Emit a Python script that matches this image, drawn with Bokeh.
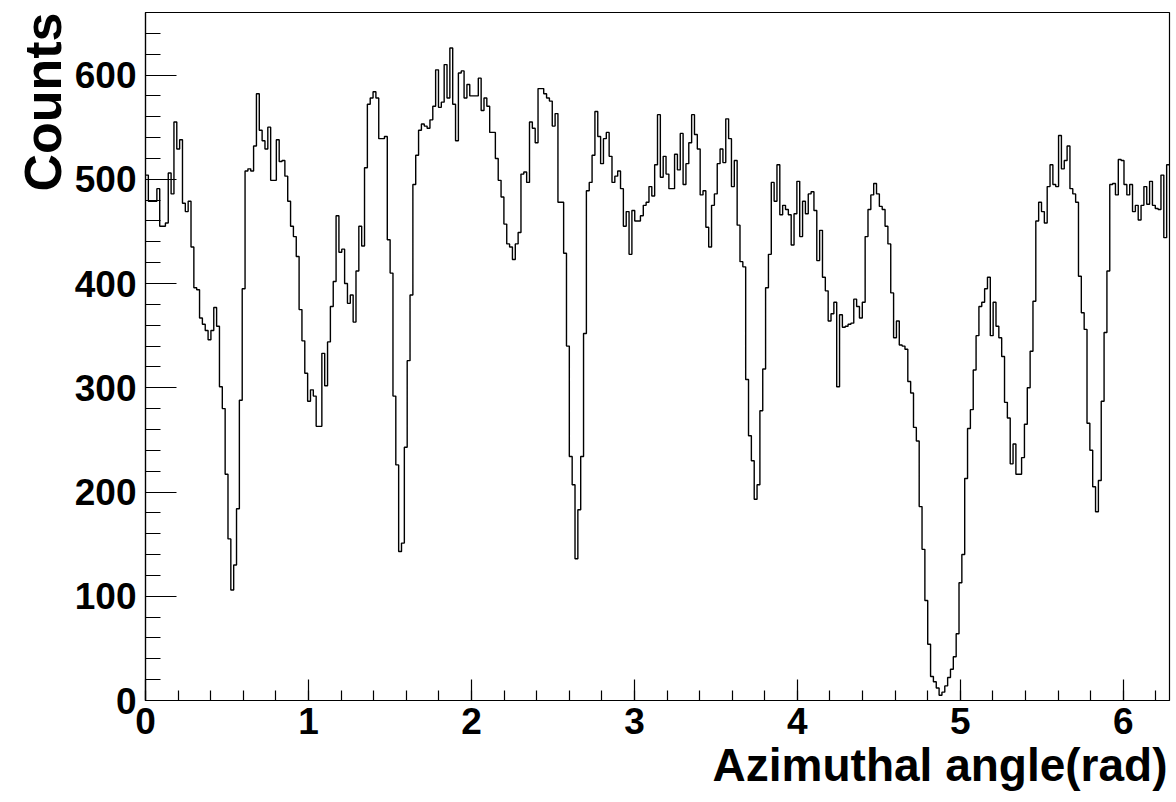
import numpy as np
from bokeh.plotting import figure
from bokeh.models import FixedTicker, Range1d, Title
from bokeh.embed import file_html
from bokeh.resources import INLINE

# ---- data (360 bins over 0..2pi) ----
counts = [
    504, 479, 479, 479, 491, 455, 455, 458, 506, 486,
    555, 529, 538, 477, 469, 479, 435, 396, 394, 367,
    361, 355, 346, 355, 377, 359, 301, 280, 217, 155,
    106, 130, 184, 288, 395, 508, 510, 508, 532, 582,
    547, 537, 529, 550, 499, 499, 538, 517, 518, 503,
    479, 455, 445, 426, 375, 345, 314, 287, 298, 292,
    263, 263, 333, 302, 344, 378, 402, 465, 430, 433,
    400, 381, 389, 363, 412, 455, 436, 511, 572, 578,
    584, 578, 539, 539, 541, 442, 410, 292, 226, 143,
    151, 243, 326, 389, 495, 523, 547, 553, 551, 549,
    557, 570, 605, 569, 574, 610, 578, 626, 572, 537,
    602, 604, 578, 591, 580, 580, 580, 597, 566, 578,
    570, 545, 545, 520, 499, 483, 457, 438, 435, 423,
    438, 449, 505, 507, 497, 555, 549, 535, 587, 587,
    582, 578, 575, 551, 563, 478, 478, 429, 340, 234,
    207, 136, 183, 234, 352, 489, 497, 523, 565, 541,
    515, 539, 545, 522, 497, 503, 508, 491, 455, 469,
    428, 470, 460, 460, 465, 475, 478, 493, 484, 514,
    562, 502, 522, 505, 491, 491, 524, 509, 544, 495,
    515, 535, 562, 543, 529, 485, 489, 454, 435, 475,
    486, 515, 529, 516, 558, 539, 493, 518, 456, 421,
    416, 308, 254, 230, 193, 207, 278, 318, 396, 428,
    497, 479, 514, 466, 475, 471, 466, 437, 467, 498,
    445, 479, 467, 486, 488, 470, 422, 451, 406, 393,
    364, 371, 382, 301, 370, 358, 359, 361, 362, 385,
    378, 367, 382, 445, 471, 485, 496, 486, 474, 471,
    455, 438, 391, 348, 364, 341, 340, 337, 306, 295,
    262, 249, 186, 145, 96, 54, 23, 18, 12, 5,
    8, 14, 22, 30, 42, 64, 113, 140, 213, 261,
    279, 317, 350, 378, 382, 395, 406, 350, 382, 359,
    348, 330, 286, 271, 227, 246, 217, 217, 233, 265,
    300, 335, 383, 460, 478, 469, 458, 493, 514, 495,
    493, 542, 510, 518, 532, 491, 486, 478, 407, 372,
    356, 266, 240, 205, 181, 211, 287, 353, 412, 495,
    496, 485, 519, 518, 495, 485, 495, 469, 475, 461,
    475, 493, 476, 498, 475, 472, 471, 504, 444, 514,
]
x_lo, x_hi = 0.0, 2 * np.pi
y_lo, y_hi = 0, 660
x_ticks = [0, 1, 2, 3, 4, 5, 6]
x_minor_ticks = [round(0.2 * i, 1) for i in range(32)]
y_ticks = [0, 100, 200, 300, 400, 500, 600]
y_minor_ticks = list(range(0, 661, 20))
x_title = "Azimuthal angle(rad)"
y_title = "Counts"

edges = np.linspace(x_lo, x_hi, len(counts) + 1)
step_vals = list(counts) + [counts[-1]]

p = figure(width=1176, height=802, x_range=Range1d(x_lo, x_hi), y_range=Range1d(y_lo, y_hi),
           output_backend="svg", toolbar_location=None,
           min_border_left=145, min_border_right=7,
           min_border_top=12, min_border_bottom=102)
p.background_fill_color = "white"
p.border_fill_color = "white"
p.outline_line_color = "black"
p.outline_line_width = 1.2
p.xgrid.visible = False
p.ygrid.visible = False

p.step(edges, step_vals, mode="after", line_color="black", line_width=1.4)

p.xaxis.ticker = FixedTicker(ticks=x_ticks, minor_ticks=x_minor_ticks)
p.yaxis.ticker = FixedTicker(ticks=y_ticks, minor_ticks=y_minor_ticks)
for ax in (p.xaxis[0], p.yaxis[0]):
    ax.axis_line_color = "black"
    ax.axis_line_width = 1.2
    ax.major_tick_line_color = "black"
    ax.minor_tick_line_color = "black"
    ax.major_tick_line_width = 1.2
    ax.minor_tick_line_width = 1.2
    ax.major_tick_out = 0
    ax.minor_tick_out = 0
    ax.major_label_text_font = "Liberation Sans"
    ax.major_label_text_font_style = "bold"
    ax.major_label_text_font_size = "37px"
    ax.major_label_text_color = "black"
p.xaxis.major_tick_in = 21
p.xaxis.minor_tick_in = 10
p.yaxis.major_tick_in = 31
p.yaxis.minor_tick_in = 15
p.xaxis.major_label_standoff = 7
p.yaxis.major_label_standoff = 9

# axis titles, ROOT style: aligned to the far end of each axis
xt = Title(text=x_title, align="right", standoff=0, offset=2,
           text_font="Liberation Sans", text_font_style="bold",
           text_font_size="46px", text_color="black")
yt = Title(text=y_title, align="right", standoff=0, offset=0,
           text_font="Liberation Sans", text_font_style="bold",
           text_font_size="52px", text_color="black")
p.add_layout(xt, "below")
p.add_layout(yt, "left")

open("out.html", "w").write(file_html(p, INLINE))
